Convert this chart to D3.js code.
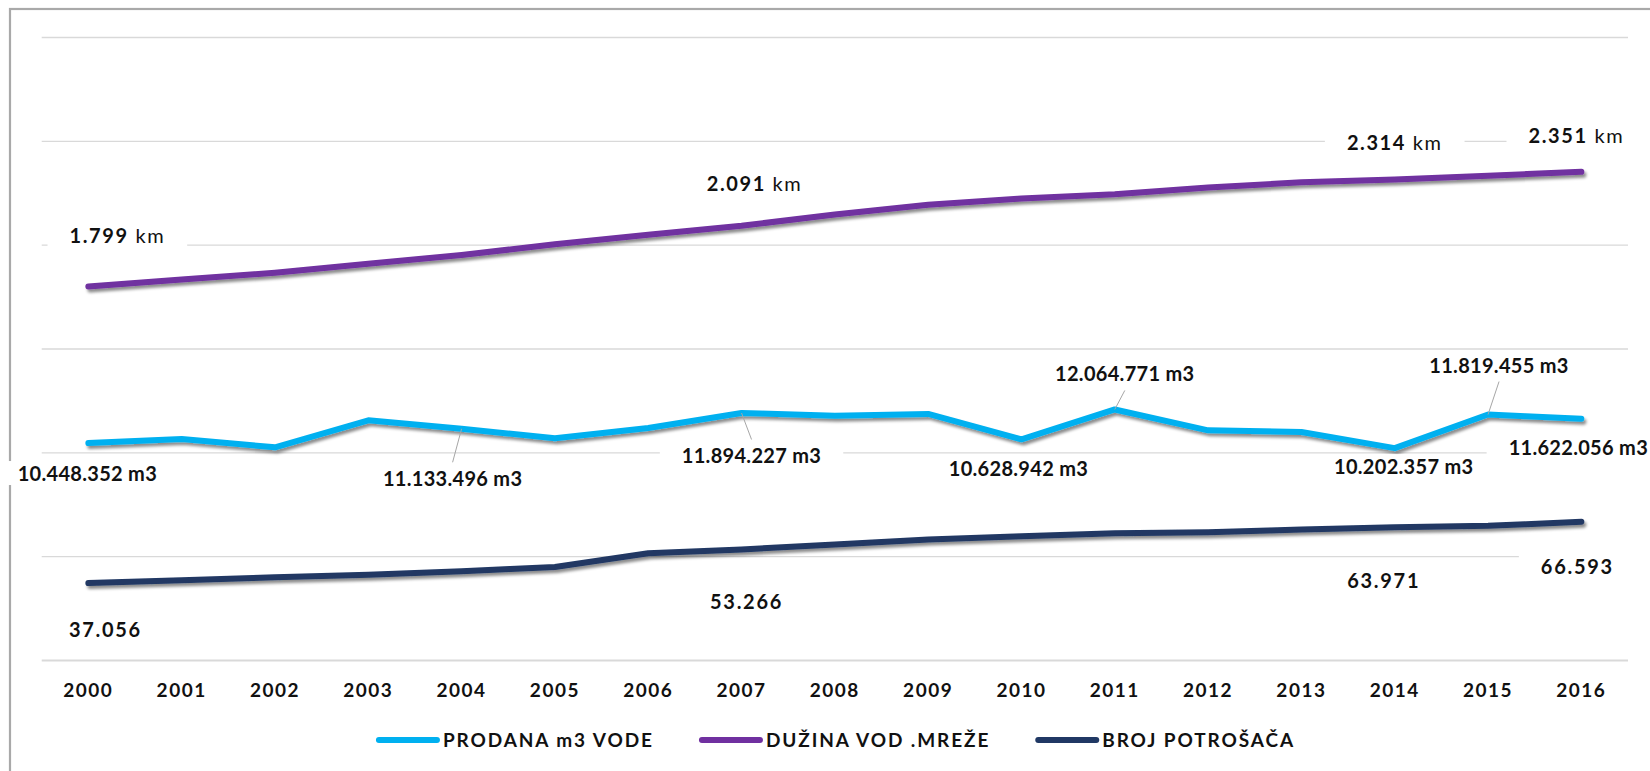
<!DOCTYPE html>
<html><head><meta charset="utf-8">
<script src="https://cdn.jsdelivr.net/npm/d3@7"></script>
<style>html,body{margin:0;padding:0;background:#fff;overflow:hidden}</style>
</head><body>
<svg id="c" width="1650" height="771"></svg>
<script>
// ---------- data ----------
const years = [2000,2001,2002,2003,2004,2005,2006,2007,2008,2009,2010,2011,2012,2013,2014,2015,2016];
const prodanaM3 = [10448352,10640000,10240000,11540000,11133496,10680000,11170000,11894227,11760000,11850000,10628942,12064771,11060000,10980000,10202357,11819455,11622056];
const duzinaKm = [1799,1832,1865,1908,1950,2002,2048,2091,2145,2192,2222,2243,2275,2300,2314,2332,2351];
const brojPotrosaca = [37056,38400,39800,41000,42700,44800,51400,53266,55600,58000,59600,61000,61500,62900,63971,64600,66593];
const seriesNames = ["PRODANA m3 VODE","DUŽINA VOD .MREŽE","BROJ POTROŠAČA"];
const gridTicks = [0,500,1000,1500,2000,2500,3000];
const prodanaDivisor = 10000;
const potrosaciDivisor = 100;
const prodanaLabelYears = [2000,2004,2007,2010,2011,2014,2015,2016];
const duzinaLabelYears = [2000,2007,2014,2016];
const potrosaciLabelYears = [2000,2007,2014,2016];

// ---------- layout (label offsets from their point) ----------
const prodanaLabelOffsets = [[-1,38],[-9,57],[10,50],[-3,37],[10,-28],[9,26],[11,-42],[-3,36]];
const prodanaLeader = [false,true,true,false,true,false,true,false];
const duzinaLabelOffsets = [[29,-43],[13,-35],[0,-29],[-5,-29]];
const potrosaciLabelOffsets = [[17,54],[5,60],[-11,61],[-4,52]];

const colors = ["#00B0F0","#7030A0","#203864"];
const FONT = "Lato, 'Open Sans', sans-serif";

const svg = d3.select("#c");
const fmt = d3.formatLocale({decimal:",", thousands:".", grouping:[3], currency:["",""]}).format(",d");

svg.append("rect").attr("x",0).attr("y",0).attr("width",1650).attr("height",771).attr("fill","#fff");
svg.append("rect").attr("x",10).attr("y",9).attr("width",1700).attr("height",800)
  .attr("fill","none").attr("stroke","#a9a9a9").attr("stroke-width",2.2);

const defs = svg.append("defs");
defs.append("filter").attr("id","sh").attr("filterUnits","userSpaceOnUse")
  .attr("x",0).attr("y",0).attr("width",1650).attr("height",771)
  .append("feDropShadow").attr("dx",2).attr("dy",3).attr("stdDeviation",1.8)
  .attr("flood-color","#000").attr("flood-opacity",0.45);

const x = d3.scaleBand().domain(years).range([41.7,1628]).padding(0);
const cx = yr => x(yr) + x.bandwidth()/2;
const y = d3.scaleLinear().domain([0,3000]).range([660,37]);

// gridlines
const gridG = svg.append("g").attr("transform","translate(41.7,0)")
  .call(d3.axisLeft(y).tickValues(gridTicks).tickSize(-(1628-41.7)).tickFormat(""));
gridG.select(".domain").remove();
gridG.selectAll(".tick line").attr("stroke","#d9d9d9").attr("stroke-width",d=>d===0?2:1.3);

// x axis
const xG = svg.append("g").attr("transform","translate(0,660)")
  .call(d3.axisBottom(x).tickSize(0));
xG.select(".domain").remove();
xG.selectAll("text").attr("y",37).attr("dy",0)
  .attr("font-family",FONT).attr("font-weight",700).attr("font-size",19)
  .attr("letter-spacing",1.5).attr("fill","#111");

// series
const series = [
  {name:seriesNames[0], vals:prodanaM3.map(v=>v/prodanaDivisor), raw:prodanaM3, color:colors[0]},
  {name:seriesNames[1], vals:duzinaKm, raw:duzinaKm, color:colors[1]},
  {name:seriesNames[2], vals:brojPotrosaca.map(v=>v/potrosaciDivisor), raw:brojPotrosaca, color:colors[2]}
];
const line = d3.line().x((d,i)=>cx(years[i])).y(d=>y(d));
const linesG = svg.append("g").attr("filter","url(#sh)");
linesG.selectAll("path").data([series[2],series[0],series[1]]).join("path")
  .attr("d",s=>line(s.vals)).attr("fill","none").attr("stroke",s=>s.color)
  .attr("stroke-width",6).attr("stroke-linecap","round").attr("stroke-linejoin","round");

// labels
const labG = svg.append("g");
function addLabel(px, py, off, parts, leader){
  const tx = px + off[0], ty = py + off[1];
  if (leader) {
    const below = off[1] > 0;
    const ey = below ? ty - 14 - 9.5 : ty + 9;
    labG.append("line").attr("x1",px).attr("y1",py).attr("x2",tx).attr("y2",ey)
      .attr("stroke","#a6a6a6").attr("stroke-width",1);
  }
  const g = labG.append("g");
  const t = g.append("text").attr("x",tx).attr("y",ty).attr("text-anchor","middle")
    .attr("font-family",FONT).attr("font-size",20).attr("fill","#111");
  parts.forEach(p => t.append("tspan").attr("font-weight",p.w).attr("letter-spacing",p.ls).text(p.t));
  const bb = t.node().getBBox();
  g.insert("rect","text").attr("x",bb.x-22).attr("y",bb.y).attr("width",bb.width+44).attr("height",bb.height).attr("fill","#fff");
}
prodanaLabelYears.forEach((yr,k)=>{
  const i = years.indexOf(yr);
  addLabel(cx(yr), y(series[0].vals[i]), prodanaLabelOffsets[k],
    [{t:fmt(prodanaM3[i])+" m3", w:700, ls:0.3}], prodanaLeader[k]);
});
duzinaLabelYears.forEach((yr,k)=>{
  const i = years.indexOf(yr);
  addLabel(cx(yr), y(duzinaKm[i]), duzinaLabelOffsets[k],
    [{t:fmt(duzinaKm[i]), w:700, ls:1.6},{t:" km", w:400, ls:1.6}], false);
});
potrosaciLabelYears.forEach((yr,k)=>{
  const i = years.indexOf(yr);
  addLabel(cx(yr), y(series[2].vals[i]), potrosaciLabelOffsets[k],
    [{t:fmt(brojPotrosaca[i]), w:700, ls:1.7}], false);
});

// legend
const legG = svg.append("g");
const items = series.map(s=>{
  const g = legG.append("g");
  g.append("line").attr("x1",0).attr("x2",58).attr("y1",0).attr("y2",0)
    .attr("stroke",s.color).attr("stroke-width",6).attr("stroke-linecap","round");
  const t = g.append("text").attr("x",64).attr("y",6.5).attr("font-family",FONT)
    .attr("font-weight",700).attr("font-size",19).attr("letter-spacing",1.9).attr("fill","#111").text(s.name);
  return {g, w: 64 + t.node().getComputedTextLength()};
});
const gap = 48;
const total = d3.sum(items, d=>d.w) + gap*(items.length-1);
let lx = 837 - total/2;
items.forEach(it=>{ it.g.attr("transform",`translate(${lx},740)`); lx += it.w + gap; });
</script>
</body></html>
